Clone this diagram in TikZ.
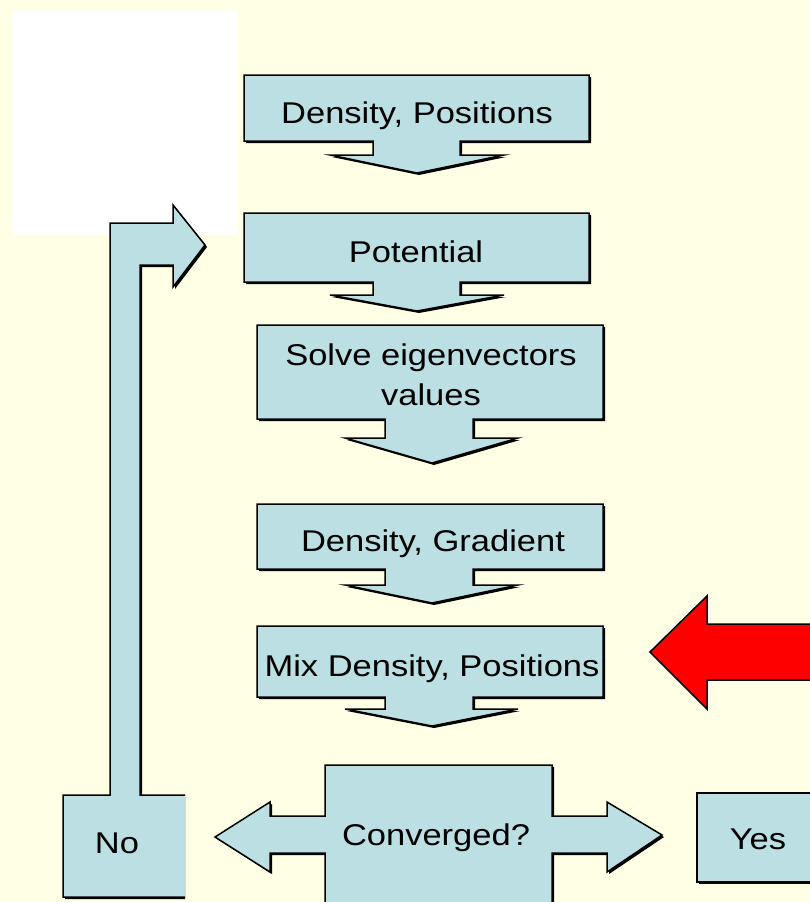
\documentclass[tikz,border=0pt]{standalone}
\usepackage{fontspec}
\newfontfamily\lblfont[FakeStretch=1.15]{Liberation Sans}
\usetikzlibrary{shadows}
\definecolor{bgyellow}{HTML}{FFFFE6}
\definecolor{boxblue}{HTML}{BBDFE3}
\begin{document}
\begin{tikzpicture}[x=1pt,y=-1pt,
  shapebox/.style={fill=boxblue,draw=black,line width=1.5pt,line join=miter,
    drop shadow={shadow xshift=2pt,shadow yshift=-2pt,fill=black,opacity=1}},
  lbl/.style={inner sep=0pt,anchor=base,align=center,
    font=\lblfont\fontsize{30}{40}\selectfont}]
\useasboundingbox (0,0) rectangle (810,902);
\clip (0,0) rectangle (810,902);
\fill[bgyellow] (0,0) rectangle (810,902);
\fill[white] (12,10) rectangle (237,235);

% step 1
\path[shapebox] (244,75) -- (589,75) -- (589,141) -- (460,141) -- (460,155) -- (504,155)
  -- (417,173) -- (330,155) -- (373,155) -- (373,141) -- (244,141) -- cycle;
\node[lbl] (dp) at (417,123) {Density, Positions};
% step 2
\path[shapebox] (244,213) -- (589,213) -- (589,282) -- (460,282) -- (460,295) -- (504,295)
  -- (417,311) -- (330,295) -- (373,295) -- (373,282) -- (244,282) -- cycle;
\node[lbl] (pot) at (416,262) {Potential};
% step 3
\path[shapebox] (257,325) -- (603,325) -- (603,419) -- (473,419) -- (473,438) -- (518,438)
  -- (432,463) -- (345,438) -- (385,438) -- (385,419) -- (257,419) -- cycle;
\node[lbl] (solve) at (431,405) {Solve eigenvectors\\values};
% step 4
\path[shapebox] (257,504) -- (603,504) -- (603,569) -- (473,569) -- (473,585) -- (518,585)
  -- (432,603) -- (345,585) -- (385,585) -- (385,569) -- (257,569) -- cycle;
\node[lbl] (dg) at (433,551) {Density, Gradient};
% step 5
\path[shapebox] (257,626) -- (603,626) -- (603,697) -- (473,697) -- (473,709) -- (518,709)
  -- (432,726) -- (345,709) -- (385,709) -- (385,697) -- (257,697) -- cycle;
\node[lbl] (mix) at (432,676) {Mix Density, Positions};
% converged
\path[shapebox] (325,765) -- (552,765) -- (552,816) -- (607,816) -- (607,802) -- (662,835)
  -- (607,872) -- (607,853) -- (552,853) -- (552,915) -- (325,915) -- (325,853)
  -- (270,853) -- (270,872) -- (215,837) -- (270,802) -- (270,816) -- (325,816) -- cycle;
\node[lbl] (conv) at (436,845) {Converged?};
% no with loop-back arrow
\fill[black] (65,797) -- (112,797) -- (112,225) -- (175,225) -- (175,207) -- (207,247)
  -- (175,289) -- (175,267) -- (142,267) -- (142,797) -- (185,797) -- (185,899) -- (65,899) -- cycle;
\fill[boxblue] (63,795) -- (110,795) -- (110,223) -- (173,223) -- (173,205) -- (205,245)
  -- (173,287) -- (173,265) -- (140,265) -- (140,795) -- (185,795) -- (185,897) -- (63,897) -- cycle;
\draw[line width=1.5pt,line join=miter] (185,897) -- (63,897) -- (63,795) -- (110,795) -- (110,223)
  -- (173,223) -- (173,205) -- (205,245) -- (173,287) -- (173,265) -- (140,265) -- (140,795) -- (185,795);
\node[lbl] (no) at (117,853) {No};
% yes
\path[shapebox] (697,793) rectangle (830,882);
\node[lbl] (yes) at (758,849) {Yes};
% red arrow
\path[fill=red,draw=black,line width=1.5pt,line join=miter] (650,652) -- (707,596) -- (707,624)
  -- (830,624) -- (830,680) -- (707,680) -- (707,709) -- cycle;
\end{tikzpicture}
\end{document}
